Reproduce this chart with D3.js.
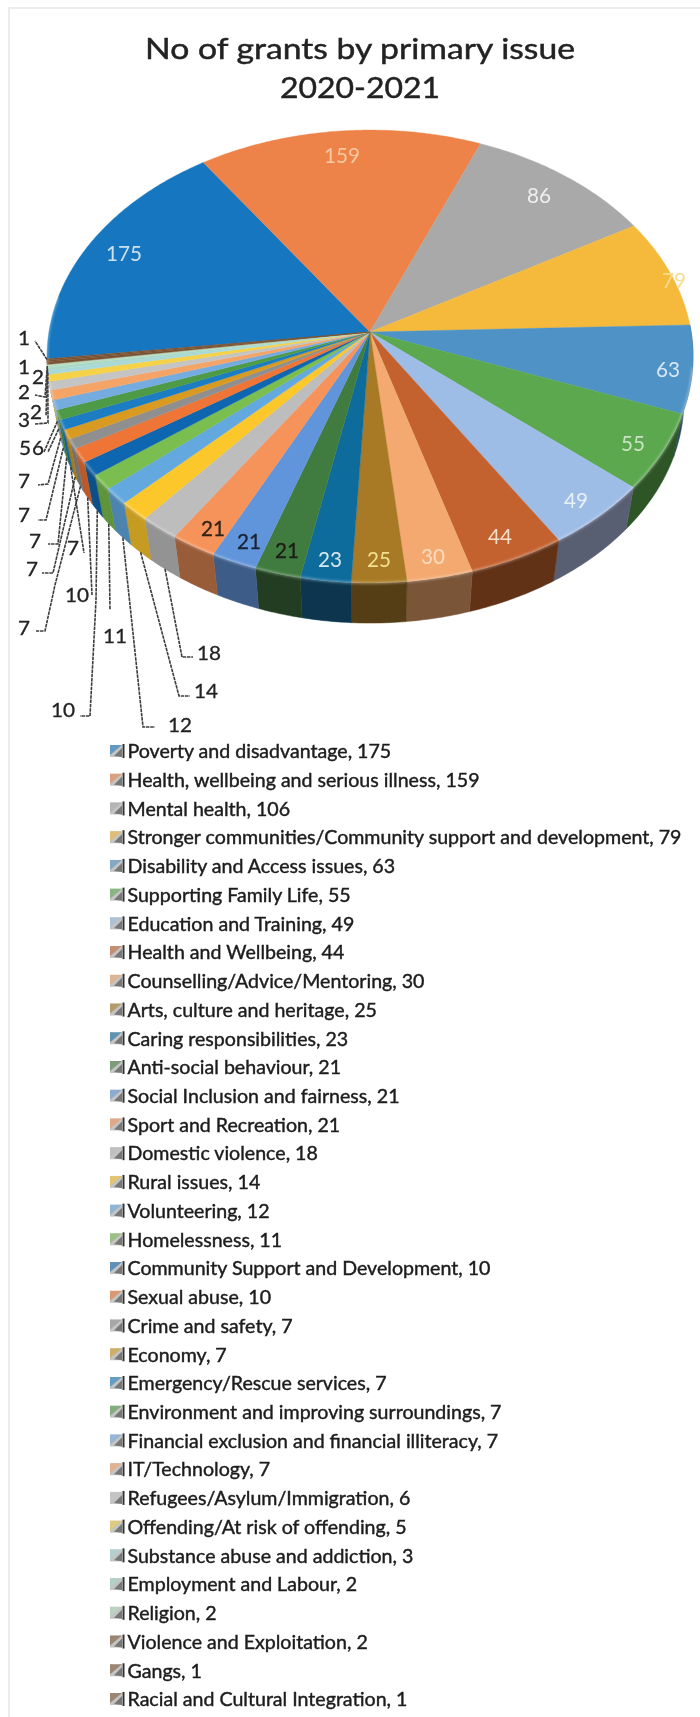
<!DOCTYPE html>
<html><head><meta charset="utf-8">
<script src="https://cdn.jsdelivr.net/npm/d3@7"></script>
<style>html,body{margin:0;padding:0;background:#fff}svg{display:block}</style>
</head><body><svg id="c" width="700" height="1717"></svg>
<script>
const titleLines=["No of grants by primary issue","2020-2021"];
const categories=["Poverty and disadvantage","Health, wellbeing and serious illness","Mental health","Stronger communities/Community support and development","Disability and Access issues","Supporting Family Life","Education and Training","Health and Wellbeing","Counselling/Advice/Mentoring","Arts, culture and heritage","Caring responsibilities","Anti-social behaviour","Social Inclusion and fairness","Sport and Recreation","Domestic violence","Rural issues","Volunteering","Homelessness","Community Support and Development","Sexual abuse","Crime and safety","Economy","Emergency/Rescue services","Environment and improving surroundings","Financial exclusion and financial illiteracy","IT/Technology","Refugees/Asylum/Immigration","Offending/At risk of offending","Substance abuse and addiction","Employment and Labour","Religion","Violence and Exploitation","Gangs","Racial and Cultural Integration"];
const legendValues=[175,159,106,79,63,55,49,44,30,25,23,21,21,21,18,14,12,11,10,10,7,7,7,7,7,7,6,5,3,2,2,2,1,1];
const labelValues=[175,159,86,79,63,55,49,44,30,25,23,21,21,21,18,14,12,11,10,10,7,7,7,7,7,7,6,5,3,2,2,2,1,1];
const colors=["#1477C0","#EE8348","#A9A9A9","#F5B93B","#4F93C6","#5BA84F","#9DBCE6","#C3622F","#F3A96F","#A87A25","#0F6C9C","#3F7C3F","#6195DB","#F6935A","#BDBDBD","#FCC72B","#63A9E0","#79BE4F","#0F66AF","#EE7434","#8F8F8F","#D99A20","#1A7DC3","#4E9A46","#75ACE0","#F5A468","#C4C4C4","#F5D247","#A8D8D8","#A8D8C8","#B8DCC0","#7A5232","#7A5232","#7A5232"];

// layout of labels, same order as the slices: [label x, label y]
const labelPos=[[124,252],[342,154],[539,194],[674,279],[668,368],[633,442],[576,499],[500,535],[433,555],[379,558],[330,558],[287,549],[249,540],[213,527],[209,652],[206,690],[180,724],[115,635],[63,709],[77,594],[24,627],[32,568],[73,547],[35,540],[24,514],[24,480],[38,447],[25,447],[24,419],[36,411],[24,391],[38,376],[24,366],[24,337]];
const labelColor=["#cfe0ee","#f8c8a0","#eeeeee","#f8dc90","#d8e8f4","#c8e4c0","#e8f0fa","#f8e0c8","#f8dcc0","#f0e090","#d8e8f0","#1c1c10","#14243c","#3a2410"];
// bends of the leader lines, by slice index (elbows in page pixels)
const leaderBends={14:[[182,657],[193,657]],15:[[179,696],[190,696]],16:[[143,727],[155,727]],17:[[110,610]],18:[[96,600],[90,716],[80,716]],19:[[92,595]],20:[[55,585],[45,631],[36,631]],21:[[53,573],[42,573]],22:[[84,553]],23:[[58,544],[48,544]],24:[[46,520],[38,520]],25:[[48,484],[38,485]],26:[[48,452]],27:[[44,452]],28:[[48,423],[35,424]],29:[[46,416]],30:[[45,397],[35,395]],33:[[35,341]]};

const svg=d3.select("#c");
const defs=svg.append("defs");
defs.append("filter").attr("id","soft").attr("x","-5%").attr("y","-5%").attr("width","110%").attr("height","110%")
  .append("feGaussianBlur").attr("stdDeviation",0.5);
defs.append("filter").attr("id","rim").append("feGaussianBlur").attr("stdDeviation",1.2);
// faint scan edge
svg.append("path").attr("d","M9,1717V8H700").attr("fill","none").attr("stroke","#ececec").attr("stroke-width",2);
const root=svg.append("g").attr("filter","url(#soft)");

// perspective disc
const cx=370,cy=332,rx=321.1,ry=223.8,k=0.1082,depth=43.5,midY=24.5;
const project=t=>{const x=Math.sin(t),y=-Math.cos(t),w=1-k*y;return [cx+rx*x/w,cy+ry*y/w];};
const lower=t=>{const p=project(t);return [cx+(p[0]-cx)*0.972,cy+midY+(p[1]-cy-midY)*0.985+depth];};
const arcPts=(a,b)=>{const n=Math.max(2,Math.ceil((b-a)/0.01));return d3.range(n+1).map(i=>a+(b-a)*i/n);};
const line=d3.line();
const a0=-96.8*Math.PI/180;
const arcs=d3.pie().sort(null).startAngle(a0).endAngle(a0+2*Math.PI)(legendValues);

// walls
const wall=root.append("g");
arcs.forEach((d,i)=>{
  const a=d.startAngle,b=d.endAngle;
  const ts=arcPts(a,b);
  const top=ts.map(project),bot=ts.map(lower);
  const norm=((a+b)/2+2*Math.PI)%(2*Math.PI);
  if(norm<Math.PI*0.45||norm>Math.PI*1.6) return;
  const f=norm>Math.PI*1.17?0.78:norm>Math.PI*1.1?0.62:0.5;
  const c=d3.rgb(colors[i]);
  const col=d3.rgb(c.r*f+(i==6?10:0),c.g*f,c.b*f);
  wall.append("path").attr("d",line(top.concat(bot.reverse()))+"Z").attr("fill",col).attr("stroke",col).attr("stroke-width",0.5);
});
// top face
const face=root.append("g");
arcs.forEach((d,i)=>{
  const pts=[[cx,cy]].concat(arcPts(d.startAngle,d.endAngle).map(project));
  face.append("path").attr("d",line(pts)+"Z").attr("fill",colors[i]).attr("stroke",colors[i]).attr("stroke-width",0.4);
});
// rim highlight
root.append("path").attr("d",line(arcPts(Math.PI*0.55,Math.PI*1.55).map(project)))
  .attr("fill","none").attr("stroke","#fff").attr("stroke-opacity",0.3).attr("stroke-width",2.5).attr("filter","url(#rim)");

// leaders
const lead=root.append("g").attr("fill","none").attr("stroke","#3c3c3c").attr("stroke-width",1.6).attr("stroke-dasharray","3.5 0.8");
Object.entries(leaderBends).forEach(([i,b])=>{
  const d=arcs[+i],m=(d.startAngle+d.endAngle)/2;
  const p=project(m),r=lower(m);
  lead.append("path").attr("d",line([+i>=14&&+i<28?r:p].concat(b)));
});

// data labels
root.append("g").selectAll("text").data(arcs).join("text")
  .attr("x",(d,i)=>labelPos[i][0]).attr("y",(d,i)=>labelPos[i][1])
  .attr("text-anchor","middle").attr("dominant-baseline","central")
  .attr("font-family","Lato").attr("font-size",(d,i)=>i<14?21:19.5)
  .attr("textLength",(d,i)=>String(labelValues[i]).length*12)
  .attr("lengthAdjust","spacingAndGlyphs")
  .attr("fill",(d,i)=>labelColor[i]||"#222")
  .attr("stroke",(d,i)=>i<11?"none":"#222").attr("stroke-width",(d,i)=>i<11?0:0.3)
  .text((d,i)=>labelValues[i]);

// title
const titleWidth=[430,160];
root.append("g").selectAll("text").data(titleLines).join("text")
  .attr("x",360).attr("y",(d,i)=>59+i*39)
  .attr("text-anchor","middle").attr("font-family","Lato").attr("font-size",29.5)
  .attr("textLength",(d,i)=>titleWidth[i]).attr("lengthAdjust","spacingAndGlyphs")
  .attr("fill","#222").attr("stroke","#222").attr("stroke-width",0.45).text(d=>d);

// legend
const ly=d3.scalePoint().domain(categories).range([751,1699]);
const leg=root.append("g").selectAll("g").data(categories).join("g")
  .attr("transform",d=>`translate(0,${ly(d)})`);
leg.append("rect").attr("x",110).attr("y",-6).attr("width",12).attr("height",12).attr("fill","#c4c4c4");
leg.append("path").attr("d","M110,-6H122L110,4Z").attr("fill",(d,i)=>colors[i]).attr("opacity",0.55);
leg.append("path").attr("d","M114,5L122,-3V6Z").attr("fill","#777");
leg.append("rect").attr("x",122.5).attr("y",-7).attr("width",2).attr("height",14).attr("fill","#333");
leg.append("text").attr("transform","translate(127.5,0) scale(1.06,1)").attr("dominant-baseline","central")
  .attr("font-family","Lato").attr("font-size",18.5).attr("fill","#1c1c1c").attr("stroke","#1c1c1c").attr("stroke-width",0.4)
  .text((d,i)=>`${d}, ${legendValues[i]}`);
</script></body></html>
